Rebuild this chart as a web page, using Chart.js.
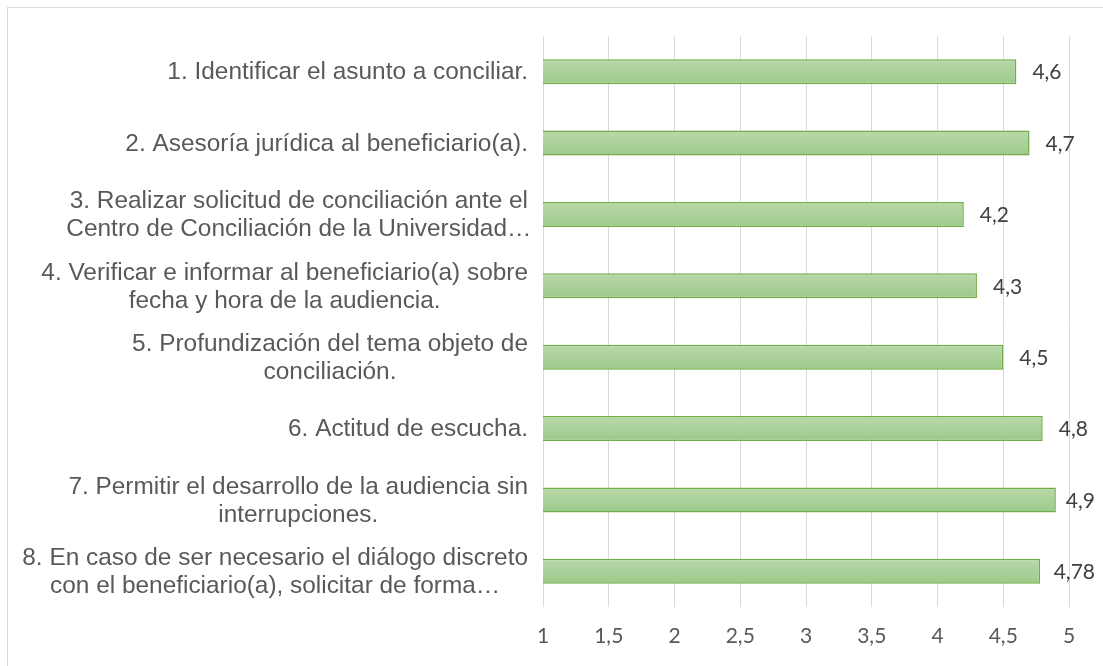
<!DOCTYPE html>
<html>
<head>
<meta charset="utf-8">
<script src="https://cdn.jsdelivr.net/npm/chart.js@4/dist/chart.umd.min.js"></script>
<style>
    html, body { margin: 0; padding: 0; background: #fff; }
    #wrap { position: relative; width: 1103px; height: 666px; overflow: hidden; }
    #frame { position: absolute; left: 7px; top: 7px; width: 1100px; height: 664px; border: 1px solid #d9d9d9; }
    canvas { position: absolute; left: 0; top: 0; }
</style>
</head>
<body>
<div id="wrap">
    <div id="frame"></div>
    <canvas id="barChart" width="1103" height="666"></canvas>
</div>
<script>
// categories (each entry = lines of the label)
var categories = [
    ["1. Identificar el asunto a conciliar."],
    ["2. Asesoría jurídica al beneficiario(a)."],
    ["3. Realizar solicitud de conciliación ante el", "Centro de Conciliación de la Universidad…"],
    ["4. Verificar e informar al beneficiario(a) sobre", "fecha y hora de la audiencia."],
    ["5. Profundización del tema objeto de", "conciliación."],
    ["6. Actitud de escucha."],
    ["7. Permitir el desarrollo de la audiencia sin", "interrupciones."],
    ["8. En caso de ser necesario el diálogo discreto", "con el beneficiario(a), solicitar de forma…"]
];
var scores = [4.6, 4.7, 4.2, 4.3, 4.5, 4.8, 4.9, 4.78];
var xMin = 1, xMax = 5, xStep = 0.5;

function comma(v) {
    return String(v).replace('.', ',');
}

// vertical green gradient on each bar
var barGradient = {
    id: 'barGradient',
    beforeDatasetsDraw: function (chart) {
        var ctx = chart.ctx;
        chart.getDatasetMeta(0).data.forEach(function (bar) {
            var p = bar.getProps(['y', 'height'], true);
            var g = ctx.createLinearGradient(0, p.y - p.height / 2, 0, p.y + p.height / 2);
            g.addColorStop(0, '#b9d9ab');
            g.addColorStop(1, '#9cc989');
            bar.options.backgroundColor = g;
        });
    }
};

// value labels to the right of the bars (kept inside the frame like Excel does)
var valueLabels = {
    id: 'valueLabels',
    afterDatasetsDraw: function (chart) {
        var ctx = chart.ctx;
        ctx.save();
        ctx.font = '21px Lato';
        ctx.fillStyle = '#404040';
        ctx.textAlign = 'left';
        ctx.textBaseline = 'middle';
        chart.getDatasetMeta(0).data.forEach(function (bar, i) {
            var p = bar.getProps(['x', 'y'], true);
            var txt = comma(scores[i]);
            var x = Math.min(p.x + 16, chart.width - 8 - ctx.measureText(txt).width);
            ctx.fillText(txt, x, p.y + 1);
        });
        ctx.restore();
    }
};

// category labels: first line right aligned, other lines centred on it
var categoryLabels = {
    id: 'categoryLabels',
    afterDraw: function (chart) {
        var ctx = chart.ctx;
        var yScale = chart.scales.y;
        var right = 528, lineH = 28;
        ctx.save();
        ctx.font = '24.4px "Liberation Sans"';
        ctx.fillStyle = '#595959';
        ctx.textAlign = 'center';
        ctx.textBaseline = 'middle';
        categories.forEach(function (lines, i) {
            var y = yScale.getPixelForValue(i) + 1;
            var cx = right - ctx.measureText(lines[0]).width / 2;
            var top = y - (lines.length - 1) * lineH / 2;
            lines.forEach(function (t, k) {
                ctx.fillText(t, cx, top + k * lineH);
            });
        });
        ctx.restore();
    }
};

var ctx = document.getElementById("barChart").getContext("2d");
new Chart(ctx, {
    type: 'bar',
    data: {
        labels: categories,
        datasets: [{
            data: scores,
            // scriptable so every bar keeps its own options object (own gradient)
            backgroundColor: function () { return '#b9d9ab'; },
            borderColor: '#70ad47',
            borderWidth: 1.5,
            borderSkipped: false,
            barPercentage: 0.35,
            categoryPercentage: 1
        }]
    },
    options: {
        indexAxis: 'y',
        responsive: false,
        animation: false,
        layout: { padding: { top: 36, right: 34, left: 0, bottom: 0 } },
        plugins: { legend: { display: false }, tooltip: { enabled: false } },
        scales: {
            x: {
                min: xMin,
                max: xMax,
                ticks: {
                    stepSize: xStep,
                    color: '#595959',
                    font: { family: 'Lato', size: 21 },
                    padding: 17,
                    callback: function (v) { return comma(v); }
                },
                grid: { color: '#d9d9d9', lineWidth: 1, drawTicks: false },
                border: { display: false },
                afterFit: function (s) { s.height = 59; }
            },
            y: {
                ticks: { display: false },
                grid: { display: false },
                border: { display: false },
                afterFit: function (s) { s.width = 543; }
            }
        }
    },
    plugins: [barGradient, valueLabels, categoryLabels]
});
</script>
</body>
</html>
